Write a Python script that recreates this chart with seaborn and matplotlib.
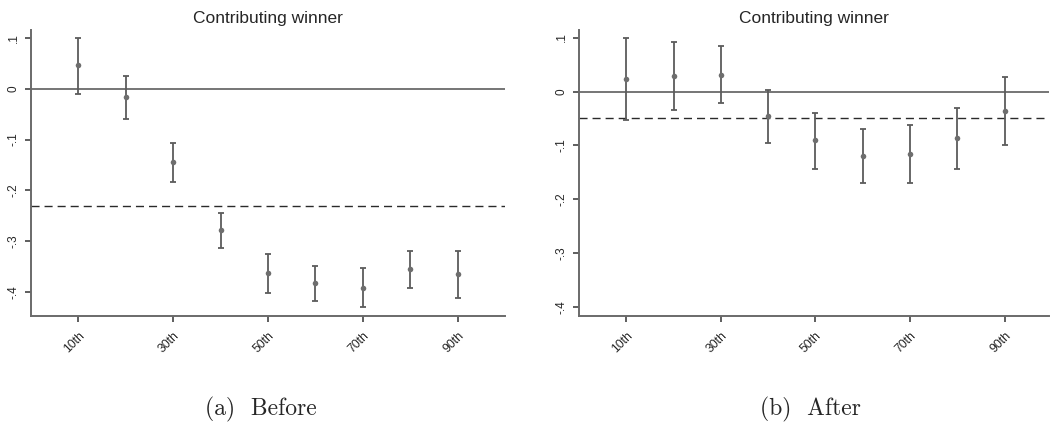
import matplotlib
matplotlib.use("Agg")
import matplotlib.pyplot as plt
import seaborn as sns
import pandas as pd

# Percentile groups and estimates with 95% confidence bounds
percentiles = [10, 20, 30, 40, 50, 60, 70, 80, 90]
tick_positions = [10, 30, 50, 70, 90]
tick_labels = ["10th", "30th", "50th", "70th", "90th"]

before_est = [0.046, -0.017, -0.145, -0.279, -0.364, -0.383, -0.392, -0.355, -0.365]
before_hi = [0.101, 0.025, -0.107, -0.244, -0.326, -0.349, -0.353, -0.319, -0.319]
before_lo = [-0.010, -0.060, -0.183, -0.314, -0.402, -0.418, -0.431, -0.392, -0.412]
before_mean = -0.232

after_est = [0.023, 0.028, 0.031, -0.046, -0.090, -0.120, -0.115, -0.087, -0.036]
after_hi = [0.099, 0.091, 0.084, 0.003, -0.039, -0.069, -0.062, -0.031, 0.027]
after_lo = [-0.052, -0.035, -0.022, -0.096, -0.143, -0.170, -0.169, -0.143, -0.099]
after_mean = -0.050

y_ticks = [0.1, 0.0, -0.1, -0.2, -0.3, -0.4]
y_tick_labels = [".1", "0", "-.1", "-.2", "-.3", "-.4"]

panel_title = "Contributing winner"
captions = ["(a)  Before", "(b)  After"]

sns.set_style("ticks")
plt.rcParams["font.family"] = ["Liberation Sans", "DejaVu Sans"]

W, H = 1050, 428
fig = plt.figure(figsize=(W / 100, H / 100), dpi=100)

def frac(x0, x1, ytop, ybot):
    return [x0 / W, 1 - ybot / H, (x1 - x0) / W, (ybot - ytop) / H]

ax_a = fig.add_axes(frac(31, 505, 30, 316))
ax_b = fig.add_axes(frac(579, 1049, 30, 316))

point_color = "#6e6e6e"
bar_color = "#5c5c5c"
spine_color = "#6a6a6a"

panels = [
    (ax_a, before_est, before_lo, before_hi, before_mean, (-0.448, 0.116), (0, 100)),
    (ax_b, after_est, after_lo, after_hi, after_mean, (-0.416, 0.114), (0, 99.4)),
]

for ax, est, lo, hi, mean, ylim, xlim in panels:
    df = pd.DataFrame({"pct": percentiles, "est": est, "lo": lo, "hi": hi})
    ax.axhline(0, color=spine_color, lw=1.3, zorder=1)
    ax.axhline(mean, color="#2a2a2a", lw=1.0, dashes=(5.8, 3.6), zorder=1)
    ax.errorbar(df["pct"], df["est"],
                yerr=[df["est"] - df["lo"], df["hi"] - df["est"]],
                fmt="none", ecolor=bar_color, elinewidth=1.3,
                capsize=2.3, capthick=1.3, zorder=2)
    sns.scatterplot(data=df, x="pct", y="est", ax=ax, color=point_color,
                    s=16, edgecolor=point_color, linewidth=0, zorder=3)
    ax.set_xlim(*xlim)
    ax.set_ylim(*ylim)
    ax.set_xlabel("")
    ax.set_ylabel("")
    ax.set_xticks(tick_positions)
    ax.set_xticklabels(tick_labels, rotation=45, ha="right", va="top",
                       rotation_mode="anchor", fontsize=8.8)
    ax.set_yticks(y_ticks)
    ax.set_yticklabels(y_tick_labels, rotation=90, va="center", fontsize=8.5)
    ax.tick_params(axis="both", length=4, width=1.1, color="#333333")
    ax.tick_params(axis="y", pad=4)
    ax.tick_params(axis="x", pad=6)
    for side in ("top", "right"):
        ax.spines[side].set_visible(False)
    for side in ("left", "bottom"):
        ax.spines[side].set_color(spine_color)
        ax.spines[side].set_linewidth(1.4)
    ax.set_title(panel_title, fontsize=12.5, pad=5)

fig.text(261 / W, 1 - 415 / H, captions[0], family="cmr10", fontsize=17,
         ha="center", va="baseline")
fig.text(810 / W, 1 - 415 / H, captions[1], family="cmr10", fontsize=17,
         ha="center", va="baseline")

fig.savefig("out.png", dpi=100)
